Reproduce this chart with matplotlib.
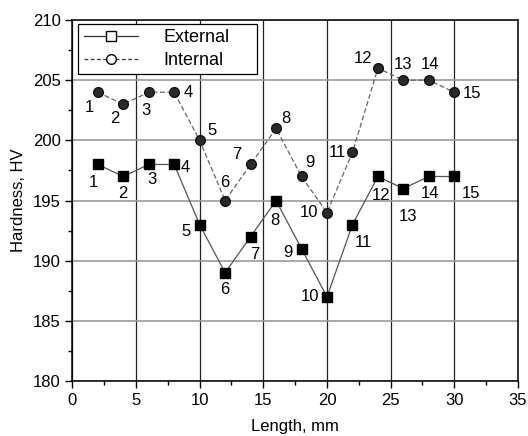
import matplotlib
matplotlib.use('Agg')
import matplotlib.pyplot as plt
from matplotlib.lines import Line2D
from matplotlib.ticker import MultipleLocator

plt.rcParams['font.family'] = ['Liberation Sans', 'DejaVu Sans']

# data
length = [2, 4, 6, 8, 10, 12, 14, 16, 18, 20, 22, 24, 26, 28, 30]
external = [198, 197, 198, 198, 193, 189, 192, 195, 191, 187, 193, 197, 196, 197, 197]
internal = [204, 203, 204, 204, 200, 195, 198, 201, 197, 194, 199, 206, 205, 205, 204]
point_ids = [str(i) for i in range(1, 16)]

# label offsets in points (dx, dy) for each numbered point
ext_off = [(-3, -13), (0, -12), (2, -11), (8, -2), (-10, -5), (0, -12), (3, -13), (-1, -14),
           (-10, -3), (-12, 0), (8, -13), (2, -14), (3, -20), (1, -12), (12, -12)]
int_off = [(-6, -11), (-6, -10), (-2, -13), (10, 0), (9, 7), (0, 13), (-10, 7), (7, 7),
           (6, 10), (-13, 0), (-11, 0), (-11, 7), (0, 11), (1, 11), (13, -1)]

fig = plt.figure(figsize=(5.28, 4.36), dpi=100)
ax = fig.add_axes([0.137, 0.126, 0.844, 0.828])

ax.plot(length, external, color='#555555', lw=0.9, ls='-', marker='s', ms=6.5,
        mfc='black', mec='black', zorder=3)
ax.plot(length, internal, color='#666666', lw=0.9, ls=(0, (4, 2)), marker='o', ms=7,
        mfc='#2a2a2a', mec='#111111', zorder=3)

for x, y, t, (dx, dy) in zip(length, external, point_ids, ext_off):
    ax.annotate(t, (x, y), xytext=(dx, dy), textcoords='offset points',
                ha='center', va='center', fontsize=12)
for x, y, t, (dx, dy) in zip(length, internal, point_ids, int_off):
    ax.annotate(t, (x, y), xytext=(dx, dy), textcoords='offset points',
                ha='center', va='center', fontsize=12)

ax.set_xlim(0, 35)
ax.set_ylim(180, 210)
ax.xaxis.set_major_locator(MultipleLocator(5))
ax.xaxis.set_minor_locator(MultipleLocator(2.5))
ax.yaxis.set_major_locator(MultipleLocator(5))
ax.yaxis.set_minor_locator(MultipleLocator(2.5))
ax.tick_params(which='both', direction='out', labelsize=12, width=1)
ax.tick_params(which='major', length=5)
ax.tick_params(which='minor', length=3)

ax.xaxis.grid(True, which='major', color='#222222', lw=0.9)
ax.yaxis.grid(True, which='major', color='#999999', lw=1.2)
ax.set_axisbelow(True)
for s in ax.spines.values():
    s.set_linewidth(1.1)

ax.set_xlabel('Length, mm', fontsize=12, labelpad=8)
ax.set_ylabel('Hardness, HV', fontsize=12, labelpad=5)

# legend uses open markers, unlike the filled ones in the plot
handles = [
    Line2D([], [], color='#333333', lw=0.9, marker='s', ms=7, mfc='white', mec='black'),
    Line2D([], [], color='#333333', lw=0.9, ls=(0, (3, 2)), marker='o', ms=7, mfc='white', mec='black'),
]
leg = ax.legend(handles, ['External', 'Internal'], loc='upper left', mode='expand',
                bbox_to_anchor=(0.0135, 0.0, 0.402, 0.989), borderaxespad=0,
                fontsize=13, fancybox=False, framealpha=1, edgecolor='black',
                handlelength=3.0, borderpad=0.3, labelspacing=0.3, handletextpad=1.4)
leg.get_frame().set_linewidth(0.9)

fig.savefig('out.png', dpi=100)
